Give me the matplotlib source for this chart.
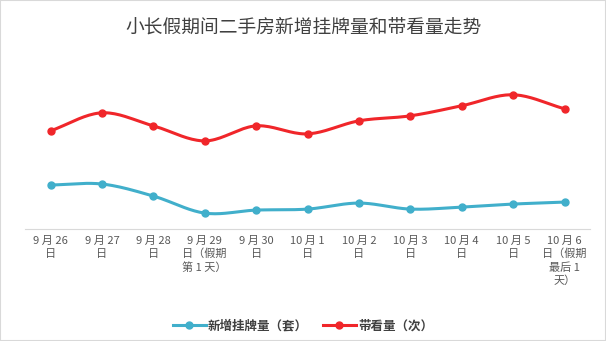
import numpy as np
import matplotlib.pyplot as plt

plt.rcParams['font.family'] = ['Noto Sans CJK SC', 'DejaVu Sans']

dates = ['9 月 26\n日', '9 月 27\n日', '9 月 28\n日', '9 月 29\n日（假期\n第 1 天）', '9 月 30\n日',
         '10 月 1\n日', '10 月 2\n日', '10 月 3\n日', '10 月 4\n日', '10 月 5\n日',
         '10 月 6\n日（假期\n最后 1\n天）']
new_listings = [44, 45, 33, 16, 19, 20, 26, 20, 22, 25, 27]
viewings = [98, 116, 103, 88, 103, 95, 108, 113, 123, 134, 120]


def smooth(y, n=20):
    # catmull-rom curve through the points, like excel's smoothed line
    y = np.asarray(y, float)
    p = np.concatenate([[2 * y[0] - y[1]], y, [2 * y[-1] - y[-2]]])
    xs, ys = [], []
    for i in range(len(y) - 1):
        t = np.linspace(0, 1, n, endpoint=False)
        p0, p1, p2, p3 = p[i], p[i + 1], p[i + 2], p[i + 3]
        ys.append(0.5 * (2 * p1 + (-p0 + p2) * t + (2 * p0 - 5 * p1 + 4 * p2 - p3) * t ** 2
                         + (-p0 + 3 * p1 - 3 * p2 + p3) * t ** 3))
        xs.append(i + t)
    xs.append([len(y) - 1])
    ys.append([y[-1]])
    return np.concatenate(xs), np.concatenate(ys)


fig = plt.figure(figsize=(6.06, 3.41), dpi=100)
fig.patches.append(plt.Rectangle((0, 0), 1, 1, transform=fig.transFigure, fill=False,
                                 edgecolor='#d9d9d9', lw=1.5))
ax = fig.add_axes([0.041, 0.328, 0.933, 0.50])

x = np.arange(len(dates))
for vals, col, lab in [(new_listings, '#41afcb', '新增挂牌量（套）'), (viewings, '#f0262a', '带看量（次）')]:
    sx, sy = smooth(vals)
    ax.plot(sx, sy, color=col, lw=2.2)
    ax.plot(x, vals, 'o', color=col, ms=5)
    ax.plot([], [], color=col, lw=2.2, marker='o', ms=5, label=lab)

ax.set_xlim(-0.5, len(dates) - 0.5)
ax.set_ylim(0, 170)
ax.set_xticks(x)
ax.set_xticklabels(dates, fontsize=8, color='#595959', linespacing=1.3)
ax.tick_params(axis='x', length=0, pad=5)
ax.set_yticks([])
for s in ['top', 'right', 'left']:
    ax.spines[s].set_visible(False)
ax.spines['bottom'].set_color('#d9d9d9')

fig.suptitle('小长假期间二手房新增挂牌量和带看量走势', y=0.95, fontsize=13.5, color='#404040')
fig.legend(loc='center', bbox_to_anchor=(0.5, 0.045), ncol=2, frameon=False, fontsize=9,
           handlelength=2.6, handletextpad=0.2, columnspacing=1.2, labelcolor='#404040',
           prop={'weight': 'bold', 'size': 9})

fig.savefig('out.png', dpi=100)
